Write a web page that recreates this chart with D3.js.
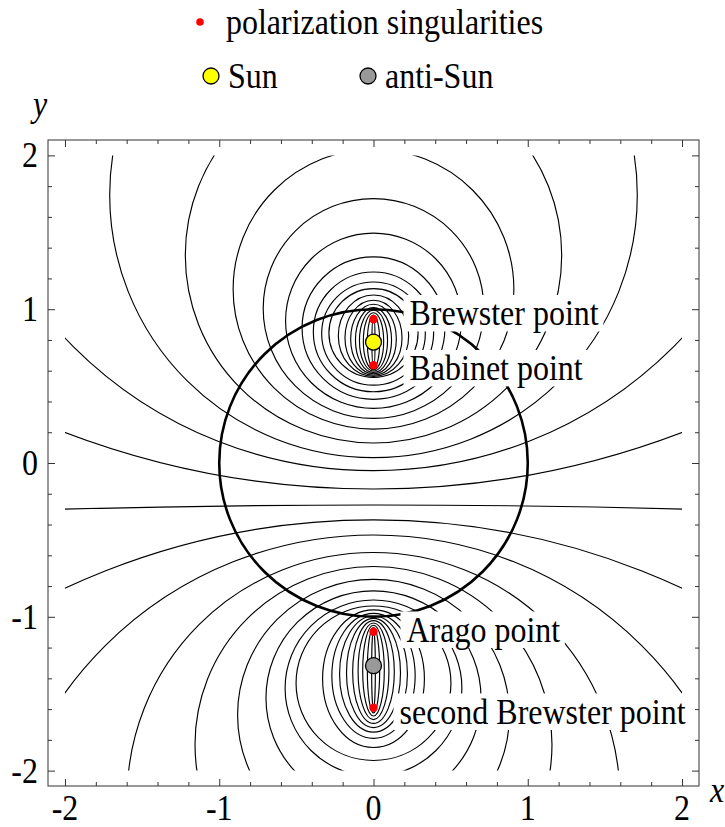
<!DOCTYPE html>
<html><head><meta charset="utf-8">
<script src="https://cdn.jsdelivr.net/npm/d3@7/dist/d3.min.js"></script>
<style>
body{margin:0;background:#fff}
text{font-family:"Liberation Serif","Times New Roman",serif;fill:#000}
</style>
</head><body>
<svg id="chart" width="725" height="827"></svg>
<script>
// ---- data ----
const xTickValues = [-2, -1, 0, 1, 2];
const yTickValues = [-2, -1, 0, 1, 2];
const minorTickValues = [-1.8,-1.6,-1.4,-1.2,-0.8,-0.6,-0.4,-0.2,0.2,0.4,0.6,0.8,1.2,1.4,1.6,1.8];

// polarization lines around the Sun: crossings of x=0 above / below, and half width
const sunLineTop    = [0.948, 0.962, 0.977, 0.993, 1.010, 1.032, 1.058, 1.092, 1.134, 1.177, 1.242, 1.340, 1.495, 1.719, 2.04, 2.57, 3.45, 5.45, 11.07];
const sunLineBottom = [0.626, 0.616, 0.607, 0.598, 0.589, 0.580, 0.571, 0.563, 0.556, 0.506, 0.463, 0.414, 0.355, 0.290, 0.22, 0.13, 0.035, -0.05, -0.169];
const sunLineHalfW  = [0.010, 0.040, 0.066, 0.091, 0.117, 0.148, 0.185, 0.228, 0.289, 0.336, 0.390, 0.463, 0.570, 0.715, 0.91, 1.22, 1.71, 2.75, 5.62];

// polarization lines around the anti-Sun
const antiLineTop    = [-1.085, -1.070, -1.055, -1.040, -1.025, -1.010, -0.995, -0.978, -0.955, -0.930, -0.891, -0.831, -0.757, -0.673, -0.582, -0.468, -0.370, -0.273];
const antiLineBottom = [-1.605, -1.625, -1.645, -1.668, -1.693, -1.720, -1.750, -1.790, -1.850, -1.934, -2.037, -2.225, -2.519, -2.987, -3.776, -5.39, -9.82, -148.5];
const antiLineHalfW  = [0.012, 0.040, 0.070, 0.100, 0.135, 0.175, 0.220, 0.270, 0.330, 0.502, 0.573, 0.697, 0.881, 1.157, 1.597, 2.461, 4.727, 74.1];

const singularityNames = ["Brewster point", "Babinet point", "Arago point", "second Brewster point"];
const singularityY = [0.935, 0.636, -1.097, -1.591];
const sunY = 0.786;
const antiSunY = -1.318;
const horizonRadius = 1;

// ---- layout ----
const svg = d3.select("#chart");
const x = d3.scaleLinear().domain([-2.11, 2.11]).range([48, 699]);
const y = d3.scaleLinear().domain([-2.1, 2.1]).range([786, 140]);
const FS = 32, SY = 1.1;

function stext(parent, px, py, str, anchor, italic){
  const g = parent.append("g").attr("transform", `translate(${px},${py}) scale(1,${SY})`);
  const t = g.append("text").attr("x",0).attr("y",0)
    .attr("text-anchor", anchor || "start").attr("dominant-baseline","central")
    .style("font-size", FS+"px").text(str);
  if (italic) t.attr("font-style","italic");
  return g;
}

// clip to the square [-2,2]^2
svg.append("clipPath").attr("id","sq").append("rect")
  .attr("x", x(-2)).attr("y", y(2)).attr("width", x(2)-x(-2)).attr("height", y(-2)-y(2));

const lines = svg.append("g").attr("clip-path","url(#sq)")
  .attr("fill","none").attr("stroke","#000").attr("stroke-width",1.15);

function drawFamily(tops, bottoms, halfW){
  const d = tops.map((t,i)=>({t, b:bottoms[i], w:halfW[i]}));
  lines.selectAll(null).data(d).enter().append("ellipse")
    .attr("cx", x(0))
    .attr("cy", e => (y(e.t)+y(e.b))/2)
    .attr("rx", e => x(e.w)-x(0))
    .attr("ry", e => (y(e.b)-y(e.t))/2);
}
drawFamily(sunLineTop, sunLineBottom, sunLineHalfW);
drawFamily(antiLineTop, antiLineBottom, antiLineHalfW);

// horizon
svg.append("ellipse").attr("cx", x(0)).attr("cy", y(0))
  .attr("rx", x(horizonRadius)-x(0)).attr("ry", y(0)-y(horizonRadius))
  .attr("fill","none").attr("stroke","#000").attr("stroke-width",2.6);

// frame
svg.append("rect").attr("x",48).attr("y",140).attr("width",651).attr("height",646)
  .attr("fill","none").attr("stroke","#333").attr("stroke-width",1);

// axes (inward ticks)
function axis(gen, tx, ty, vals, size){
  const g = svg.append("g").attr("transform",`translate(${tx},${ty})`)
    .call(gen.tickValues(vals).tickSizeInner(size).tickSizeOuter(0).tickFormat(""));
  g.select(".domain").remove();
  g.selectAll("line").attr("stroke","#333");
  return g;
}
axis(d3.axisBottom(x), 0, 786, xTickValues, -7);
axis(d3.axisBottom(x), 0, 786, minorTickValues, -4);
axis(d3.axisTop(x), 0, 140, xTickValues, -7);
axis(d3.axisTop(x), 0, 140, minorTickValues, -4);
axis(d3.axisLeft(y), 48, 0, yTickValues, -7);
axis(d3.axisLeft(y), 48, 0, minorTickValues, -4);
axis(d3.axisRight(y), 699, 0, yTickValues, -7);
axis(d3.axisRight(y), 699, 0, minorTickValues, -4);

const fmt = d => d < 0 ? "-" + Math.abs(d) : String(d);
xTickValues.forEach(v => stext(svg, x(v), 808, fmt(v), "middle"));
yTickValues.forEach(v => stext(svg, 38, y(v), fmt(v), "end"));

stext(svg, 717, 790, "x", "middle", true);
stext(svg, 40, 104, "y", "middle", true);

// labels with white boxes
const labelDX = [36, 36, 33, 26];
const labelDY = [-6, 3, -2, 4];
singularityNames.forEach((name,i)=>{
  const g = stext(svg, x(0)+labelDX[i], y(singularityY[i])+labelDY[i], name, "start");
  const bb = g.select("text").node().getBBox();
  g.insert("rect","text").attr("x",bb.x-6).attr("y",bb.y+1).attr("width",bb.width+10).attr("height",bb.height-2)
    .attr("fill","#fff");
});

// singular points and sun / anti-sun
svg.append("g").selectAll("circle").data(singularityY).enter().append("circle")
  .attr("cx", x(0)).attr("cy", d=>y(d)).attr("r",4.2).attr("fill","#f00");
svg.append("circle").attr("cx",x(0)).attr("cy",y(sunY)).attr("r",8)
  .attr("fill","#ff0").attr("stroke","#000").attr("stroke-width",1.3);
svg.append("circle").attr("cx",x(0)).attr("cy",y(antiSunY)).attr("r",8)
  .attr("fill","#999").attr("stroke","#000").attr("stroke-width",1.3);

// legend
const lg = svg.append("g");
lg.append("circle").attr("cx",200).attr("cy",22).attr("r",3.8).attr("fill","#f00");
stext(lg, 226, 22, "polarization singularities");
lg.append("circle").attr("cx",211).attr("cy",76).attr("r",8).attr("fill","#ff0").attr("stroke","#000").attr("stroke-width",1.3);
stext(lg, 228, 76, "Sun");
lg.append("circle").attr("cx",368).attr("cy",76).attr("r",8).attr("fill","#999").attr("stroke","#000").attr("stroke-width",1.3);
stext(lg, 385, 76, "anti-Sun");
</script>
</body></html>
